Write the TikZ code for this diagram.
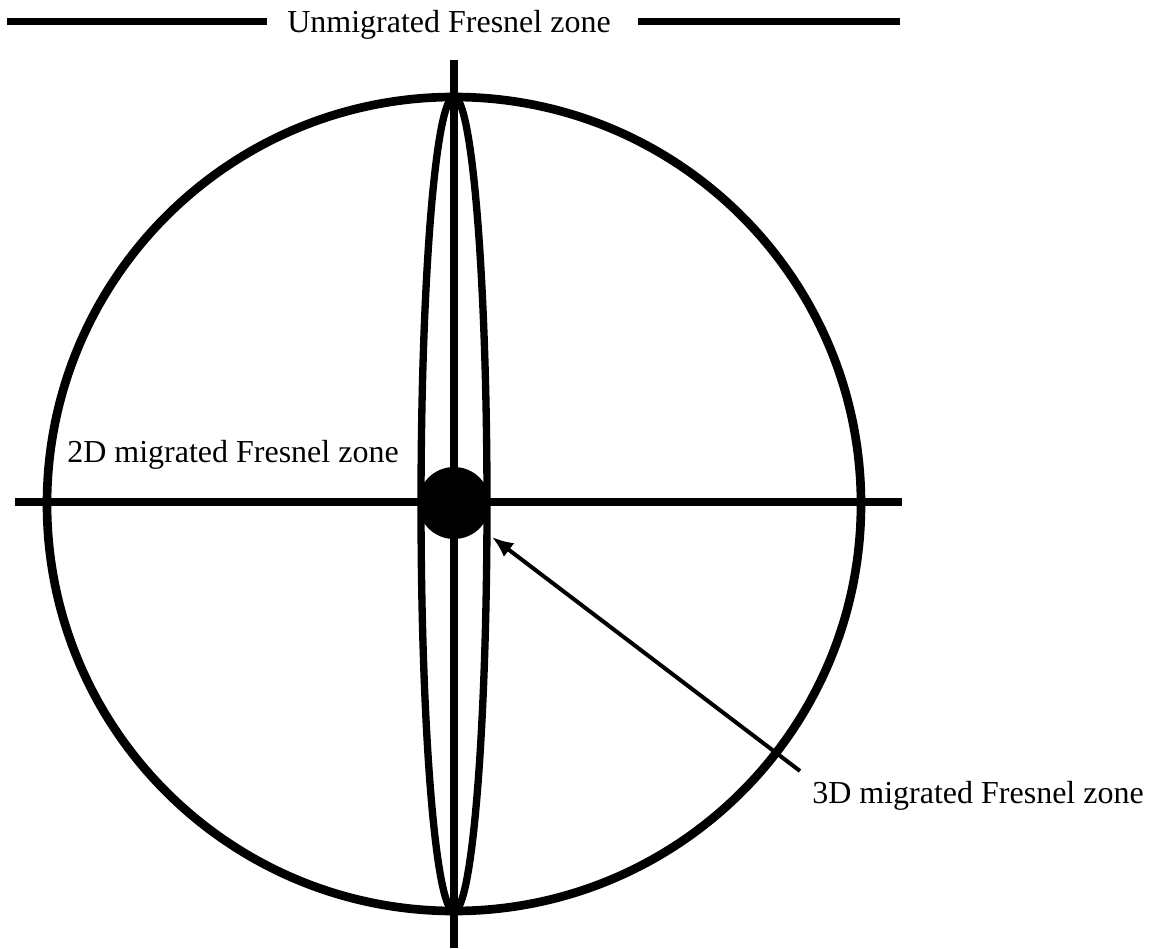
\documentclass[tikz,border=0pt]{standalone}
\usepackage{fontspec}
\setmainfont{Liberation Serif}
\usetikzlibrary{arrows.meta}
\begin{document}
\begin{tikzpicture}[x=0.75pt,y=-0.75pt,
  zoneline/.style={line width=6.5pt},
  zonelabel/.style={font=\fontsize{24}{28}\selectfont, inner sep=0pt}]

\useasboundingbox (0,0) rectangle (1151,948);

% unmigrated zone and 2D zone
\draw[zoneline] (454,504) circle [radius=407];
\draw[line width=5.5pt] (454,504) ellipse [x radius=33, y radius=407];

\draw[zoneline] (454,60) -- (454,948);
\draw[zoneline] (15,502) -- (902,502);

% 3D zone
\fill (454,503) circle [radius=36];

% title bar
\draw[line width=5.25pt] (7,22) -- (267,22);
\draw[line width=5.25pt] (638,22) -- (900,22);

\node[zonelabel, anchor=base] (unmig) at (449,33) {Unmigrated Fresnel zone};
\node[zonelabel, anchor=base west] (mig2d) at (67,462) {2D migrated Fresnel zone};
\node[zonelabel, anchor=base west] (mig3d) at (812,803) {3D migrated Fresnel zone};

\coordinate (tail) at (800,771);
\coordinate (tip) at (492,537);
\draw[line width=3pt, -{Latex[length=16pt,width=13pt]}] (tail) -- (tip);

\end{tikzpicture}
\end{document}
